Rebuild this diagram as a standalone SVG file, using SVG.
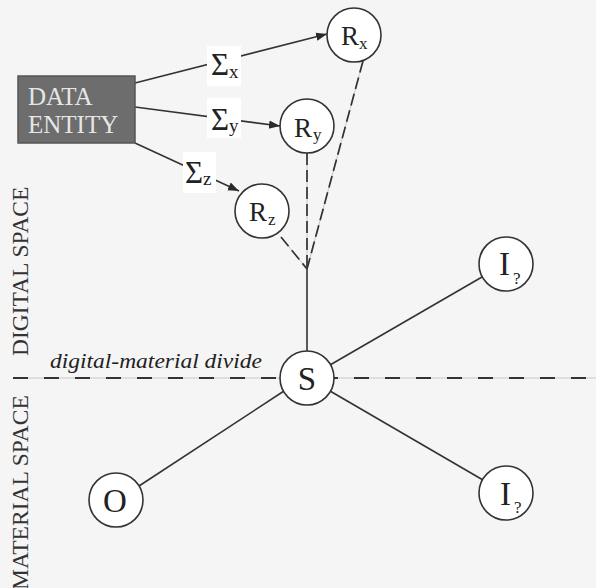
<svg xmlns="http://www.w3.org/2000/svg" width="596" height="588" viewBox="0 0 596 588">
  <defs>
    <marker id="arrow" markerWidth="12" markerHeight="10" refX="11" refY="5" orient="auto" markerUnits="userSpaceOnUse">
      <path d="M0,0.8 L11,5 L0,9.2 Z" fill="#2a2a2a"/>
    </marker>
  </defs>
  <style>
    .bg { fill: #f5f5f5; }
    .line { stroke: #333; stroke-width: 1.6; fill: none; }
    .guide { stroke: #c8c8c8; stroke-width: 1; fill: none; }
    .dash { stroke: #333; stroke-width: 1.7; fill: none; stroke-dasharray: 12 5; }
    .divide { stroke: #333; stroke-width: 1.8; fill: none; stroke-dasharray: 15 16; }
    .node { fill: #ffffff; stroke: #333; stroke-width: 1.6; }
    .lbl { font-family: "Liberation Serif", "DejaVu Serif", serif; fill: #222; }
    .big { font-size: 33px; }
    .mid { font-size: 27px; }
    .sub { font-size: 17px; }
    .sig { font-size: 31px; }
    .sigsub { font-size: 19px; }
    .tag { fill: #ffffff; }
    .side { font-family: "Liberation Serif", "DejaVu Serif", serif; font-size: 23.5px; fill: #333; }
  </style>

  <rect class="bg" x="0" y="0" width="596" height="588"/>

  <!-- space labels -->
  <text class="side" transform="translate(28,356) rotate(-90)">DIGITAL SPACE</text>
  <text class="side" transform="translate(28,590) rotate(-90)">MATERIAL SPACE</text>

  <!-- divide between digital and material space -->
  <g id="divide">
    <line class="guide" x1="13" y1="378" x2="596" y2="378"/>
    <line class="divide" x1="13" y1="378" x2="596" y2="378"/>
    <text class="lbl" x="50" y="368" font-size="21" font-style="italic" textLength="212" lengthAdjust="spacingAndGlyphs">digital-material divide</text>
  </g>

  <g id="connectors">
    <!-- data entity to representations -->
    <line class="line" x1="135" y1="83" x2="327" y2="34" marker-end="url(#arrow)"/>
    <line class="line" x1="135" y1="107" x2="280" y2="126" marker-end="url(#arrow)"/>
    <line class="line" x1="135" y1="143" x2="239" y2="191" marker-end="url(#arrow)"/>
    <!-- representations converge on the junction -->
    <line class="guide" x1="363" y1="61" x2="307" y2="269"/>
    <line class="guide" x1="307" y1="153" x2="307" y2="269"/>
    <line class="guide" x1="281" y1="237" x2="307" y2="269"/>
    <line class="dash" x1="363" y1="61" x2="307" y2="269"/>
    <line class="dash" x1="307" y1="153" x2="307" y2="269"/>
    <line class="dash" x1="281" y1="237" x2="307" y2="269" stroke-dasharray="16 4"/>
    <!-- junction to S and S to the material side -->
    <line class="line" x1="307" y1="269" x2="307" y2="352"/>
    <line class="line" x1="330" y1="365" x2="482" y2="277"/>
    <line class="line" x1="330" y1="391" x2="483" y2="480"/>
    <line class="line" x1="284" y1="391" x2="139" y2="486"/>
  </g>

  <!-- sigma labels sit on the arrows -->
  <g id="sigma-x">
    <rect class="tag" x="207" y="46" width="34" height="40"/>
    <text class="lbl sig" x="211" y="75">Σ</text>
    <text class="lbl sigsub" x="229" y="78">x</text>
  </g>
  <g id="sigma-y">
    <rect class="tag" x="207" y="98" width="34" height="40"/>
    <text class="lbl sig" x="211" y="130">Σ</text>
    <text class="lbl sigsub" x="229" y="132">y</text>
  </g>
  <g id="sigma-z">
    <rect class="tag" x="183" y="152" width="33" height="41"/>
    <text class="lbl sig" x="185" y="183">Σ</text>
    <text class="lbl sigsub" x="203" y="185">z</text>
  </g>

  <g id="data-entity">
    <rect x="18" y="76" width="117" height="67" fill="#6d6d6d" stroke="#555" stroke-width="1.5"/>
    <text x="28" y="105" font-family="Liberation Serif, serif" font-size="25" fill="#e6e6e6">DATA</text>
    <text x="28" y="133" font-family="Liberation Serif, serif" font-size="25" fill="#e6e6e6">ENTITY</text>
  </g>

  <g id="node-rx">
    <circle class="node" cx="354" cy="35" r="27"/>
    <text class="lbl mid" x="341" y="45">R</text>
    <text class="lbl sub" x="359" y="49">x</text>
  </g>
  <g id="node-ry">
    <circle class="node" cx="307" cy="126" r="27"/>
    <text class="lbl mid" x="294" y="137">R</text>
    <text class="lbl sub" x="313" y="140">y</text>
  </g>
  <g id="node-rz">
    <circle class="node" cx="262" cy="211" r="27"/>
    <text class="lbl mid" x="249" y="221">R</text>
    <text class="lbl sub" x="268" y="225">z</text>
  </g>

  <g id="node-s">
    <circle class="node" cx="307" cy="378" r="27"/>
    <text class="lbl big" x="307" y="390" text-anchor="middle">S</text>
  </g>
  <g id="node-o">
    <circle class="node" cx="116" cy="500" r="27"/>
    <text class="lbl big" x="115" y="512" text-anchor="middle">O</text>
  </g>
  <g id="node-i-upper">
    <circle class="node" cx="506" cy="264" r="27"/>
    <text class="lbl big" x="499" y="275">I</text>
    <text class="lbl sub" x="513" y="284">?</text>
  </g>
  <g id="node-i-lower">
    <circle class="node" cx="506" cy="493" r="27"/>
    <text class="lbl big" x="500" y="505">I</text>
    <text class="lbl sub" x="514" y="513">?</text>
  </g>
</svg>
